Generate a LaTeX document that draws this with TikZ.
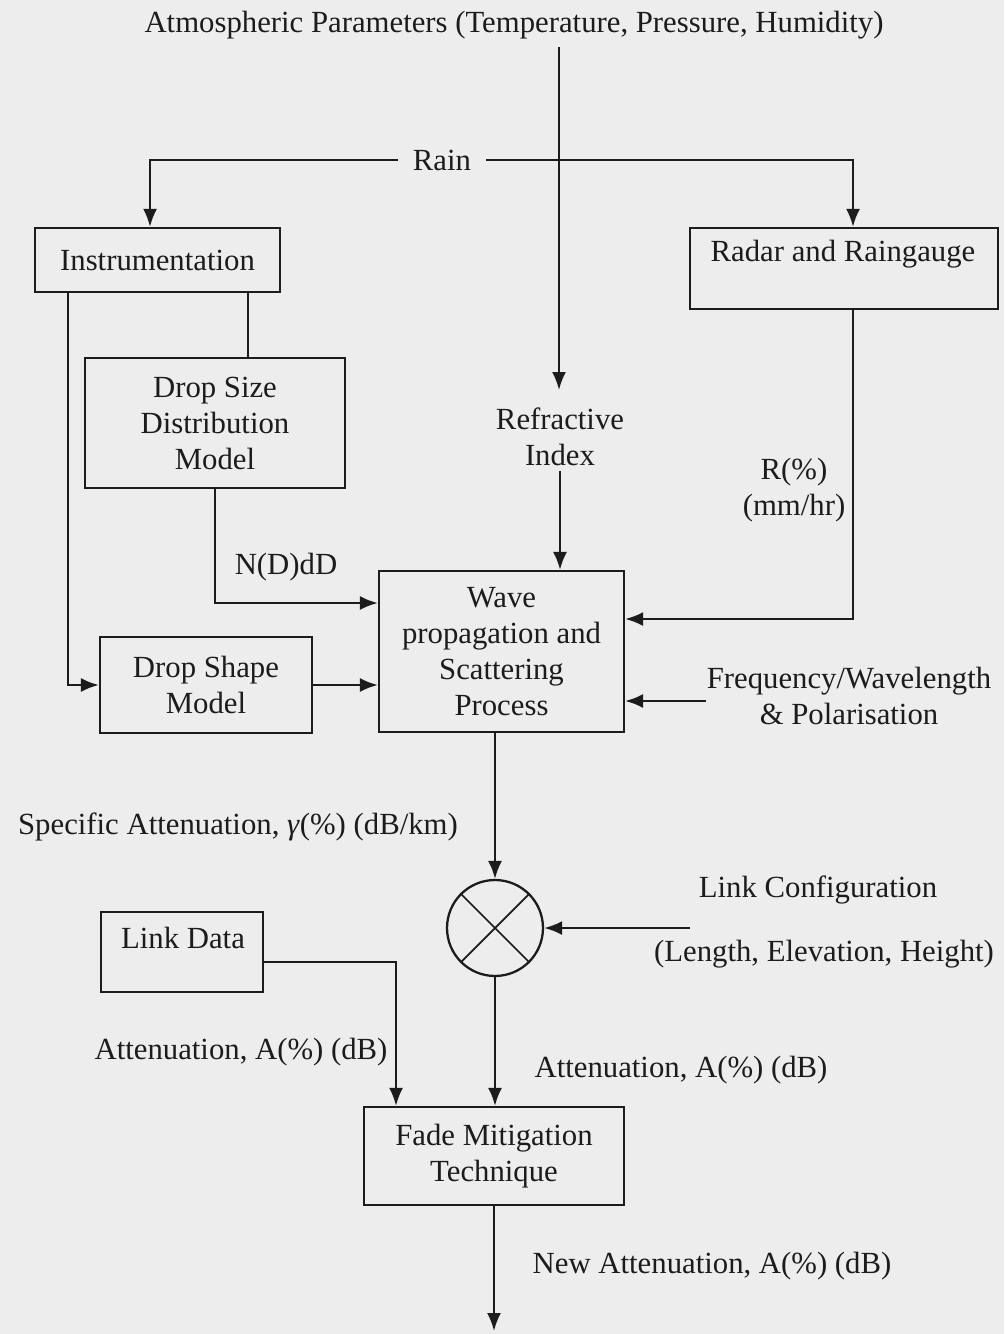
\documentclass[tikz,border=0pt]{standalone}
\usepackage{fontspec}
\setmainfont{Liberation Serif}
\usetikzlibrary{arrows.meta,shapes.geometric}
\definecolor{bg}{RGB}{237,237,237}
\definecolor{ink}{RGB}{28,28,28}
\begin{document}
\begin{tikzpicture}[x=0.02cm,y=-0.02cm,color=ink,line width=1.3pt,
  font=\fontsize{17.5}{20.5}\selectfont,
  box/.style={draw,rectangle,inner sep=0pt,align=center},
  lbl/.style={inner sep=2pt,align=center},
  arr/.style={-{Latex[length=0.36cm,width=0.28cm]}}]
\fill[bg] (0,0) rectangle (1004,1334);
\useasboundingbox (0,0) rectangle (1004,1334);

% boxes
\node[box,minimum width=4.9cm,minimum height=1.28cm] (inst) at (157.5,260) {Instrumentation};
\node[box,minimum width=6.16cm,minimum height=1.62cm] (radar) at (844,268.5) {};
\node[lbl] (radart) at (843,254) {Radar and Raingauge};
\node[box,minimum width=5.2cm,minimum height=2.6cm] (dsd) at (215,423) {Drop Size\\Distribution\\Model};
\node[box,minimum width=4.9cm,minimum height=3.22cm] (wave) at (501.5,651.5) {Wave\\propagation and\\Scattering\\Process};
\node[box,minimum width=4.24cm,minimum height=1.92cm] (shape) at (206,685) {Drop Shape\\Model};
\node[box,minimum width=3.24cm,minimum height=1.6cm] (ldata) at (182,952) {};
\node[lbl] (ldatat) at (183,938) {Link Data};
\node[box,minimum width=5.2cm,minimum height=1.96cm] (fade) at (494,1156) {Fade Mitigation\\Technique};
\node[draw,circle,minimum size=1.92cm,inner sep=0pt] (circ) at (495,928) {};
\draw[line width=1pt] (circ.north west) -- (circ.south east) (circ.north east) -- (circ.south west);

% labels
\node[lbl] (atm) at (514,25) {Atmospheric Parameters (Temperature, Pressure, Humidity)};
\node[lbl,inner xsep=8pt] (rain) at (442,160) {Rain};
\node[lbl] (refr) at (560,437) {Refractive\\Index};
\node[lbl] (rlab) at (794,490) {R(\%)\\(mm/hr)};
\node[lbl] (nd) at (286,567) {N(D)dD};
\node[lbl] (freq) at (849,696) {Frequency/Wavelength\\\& Polarisation};
\node[lbl] (spec) at (238,827) {Specific Attenuation, \textit{γ}(\%) (dB/km)};
\node[lbl] (lcfg) at (818,890) {Link Configuration};
\node[lbl] (lcfg2) at (824,954) {(Length, Elevation, Height)};
\node[lbl] (att1) at (241,1052) {Attenuation, A(\%) (dB)};
\node[lbl] (att2) at (681,1070) {Attenuation, A(\%) (dB)};
\node[lbl] (natt) at (712,1266) {New Attenuation, A(\%) (dB)};

\coordinate (atop) at (559,47);
\coordinate (rtip) at (559,390);
\coordinate (fq) at (706,701);
\coordinate (lc) at (690,928);
\coordinate (out) at (494,1331);

% connectors
\draw[arr] (atop) -- (rtip);
\draw[arr] (rain.west) -| ([xshift=-0.15cm]inst.north);
\draw[arr] (rain.east) -| ([xshift=0.18cm]radar.north);
\draw[arr] ([xshift=-1.79cm]inst.south) |- (shape.west);
\draw ([xshift=1.81cm]inst.south) -- ([xshift=1.81cm]inst.south |- dsd.north);
\draw[arr] (dsd.south) |- ([yshift=0.97cm]wave.west);
\draw[arr] (shape.east) -- (shape.east -| wave.west);
\draw[arr] (refr.south) -- (refr.south |- wave.north);
\draw[arr] ([xshift=0.18cm]radar.south) |- ([yshift=0.65cm]wave.east);
\draw[arr] (fq) -- (fq -| wave.east);
\draw[arr] (circ |- wave.south) -- (circ.north);
\draw[arr] (lc) -- (circ.east);
\draw[arr] (circ.south) -- (circ.south |- fade.north);
\draw[arr] ([yshift=-0.2cm]ldata.east) -| ([xshift=-1.96cm]fade.north);
\draw[arr] (fade.south) -- (out);
\end{tikzpicture}
\end{document}
